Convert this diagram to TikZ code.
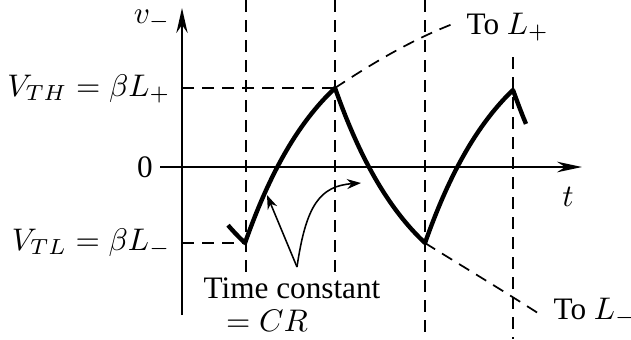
\documentclass[tikz,border=0pt]{standalone}
\usepackage{fontspec}
\setmainfont{Liberation Serif}
\usetikzlibrary{arrows.meta}
\begin{document}
\begin{tikzpicture}[x=0.32pt,y=-0.32pt,
  axis/.style={line width=0.7pt},
  wave/.style={line width=1.4pt, line join=round},
  guide/.style={line width=0.55pt, dash pattern=on 3.8pt off 2.6pt},
  lbl/.style={inner sep=0pt, font=\fontsize{10}{12}\selectfont},
  note/.style={line width=0.5pt, -{Stealth[length=4.5pt,width=3.2pt]}}]
\useasboundingbox (0,0) rectangle (631,339);
% key points
\coordinate (o) at (182,167);
\coordinate (ytop) at (182,8);
\coordinate (ybot) at (182,315);
\coordinate (xl) at (160,167);
\coordinate (xr) at (582,167);
\coordinate (lo1) at (245,243);
\coordinate (hi1) at (335,88);
\coordinate (lo2) at (425,243);
\coordinate (hi2) at (513,90);
\coordinate (yth) at (182,88);
\coordinate (ytl) at (182,243);
% vertical guides
\coordinate (g1t) at (246,0);   \coordinate (g1b) at (246,272);
\coordinate (g2t) at (335,0);   \coordinate (g2b) at (335,272);
\coordinate (g3t) at (425,0);   \coordinate (g3b) at (425,339);
\coordinate (g4t) at (513,57);  \coordinate (g4b) at (513,339);
\draw[guide] (g1t) -- (g1b);
\draw[guide] (g2t) -- (g2b);
\draw[guide] (g3t) -- (g3b);
\draw[guide] (g4t) -- (g4b);
% horizontal level guides
\draw[guide] (yth) -- (hi1);
\draw[guide] (ytl) -- (lo1);
% continuation curves
\coordinate (endp) at (458,22);
\coordinate (endm) at (541,315);
\draw[guide] (hi1) .. controls (380,58) and (420,36) .. (endp);
\draw[guide] (lo2) .. controls (462,266) and (502,290) .. (endm);
% axes
\draw[axis, -{Stealth[length=8pt,width=3.6pt]}] (ybot) -- (ytop);
\draw[axis, -{Stealth[length=8pt,width=3.4pt]}] (xl) -- (xr);
% waveform
\draw[wave]
  plot[domain=73:90, samples=8, variable=\t] ({155+\t},{167-(-152+231*exp(-\t/81))})
  -- plot[domain=0:90, samples=40, variable=\t] ({245+\t},{167-(155-231*exp(-\t/81))})
  -- plot[domain=0:90, samples=40, variable=\t] ({335+\t},{167-(-152+231*exp(-\t/81))})
  -- plot[domain=0:88, samples=40, variable=\t] ({425+\t},{167-(155-231*exp(-\t/81))})
  -- plot[domain=0:13, samples=8, variable=\t] ({513+\t},{167-(-152+229*exp(-\t/81))});
% labels
\node[lbl] (vm) at (152,20) {$v_-$};
\node[lbl, anchor=east] (vth) at (171,89) {$V_{TH}=\beta L_+$};
\node[lbl, anchor=east] (vtl) at (171,243) {$V_{TL}=\beta L_-$};
\node[lbl] (zero) at (145,167) {0};
\node[lbl] (tl) at (568,197) {$t$};
\node[lbl, anchor=west] (toLp) at (466,27) {To $L_+$};
\node[lbl, anchor=west] (toLm) at (553,312) {To $L_-$};
\node[lbl] (tc) at (292,288) {Time constant};
\node[lbl] (cr) at (267,321) {$=CR$};
% annotation arrows
\coordinate (vx) at (297,267);
\coordinate (al) at (267,195);
\coordinate (ar) at (361,183);
\draw[note] (vx) -- (al);
\draw[note] (vx) .. controls (306,205) and (320,186) .. (ar);
\end{tikzpicture}
\end{document}
